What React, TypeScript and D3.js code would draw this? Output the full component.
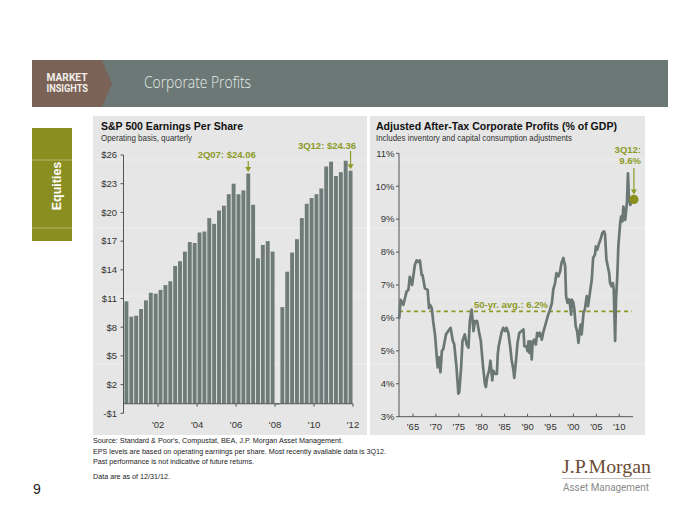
import React from 'react';
import * as d3 from 'd3';

// ---------- Data ----------
const epsQuarters = [
  '1Q01','2Q01','3Q01','4Q01','1Q02','2Q02','3Q02','4Q02','1Q03','2Q03','3Q03','4Q03',
  '1Q04','2Q04','3Q04','4Q04','1Q05','2Q05','3Q05','4Q05','1Q06','2Q06','3Q06','4Q06',
  '1Q07','2Q07','3Q07','4Q07','1Q08','2Q08','3Q08','4Q08','1Q09','2Q09','3Q09','4Q09',
  '1Q10','2Q10','3Q10','4Q10','1Q11','2Q11','3Q11','4Q11','1Q12','2Q12','3Q12'
];
const epsValues = [
  10.7, 9.1, 9.2, 9.9, 10.8, 11.6, 11.5, 11.9, 12.4, 12.8, 14.4, 14.9,
  15.9, 16.9, 16.8, 17.9, 18.0, 19.4, 18.8, 20.2, 20.7, 21.9, 23.0, 21.9,
  22.3, 24.06, 20.8, 15.2, 16.6, 17.0, 15.9, -0.09, 10.1, 13.8, 15.8, 17.2,
  19.4, 20.9, 21.5, 21.9, 22.5, 24.8, 25.3, 23.8, 24.2, 25.4, 24.36
];
const epsTicks = [-1, 2, 5, 8, 11, 14, 17, 20, 23, 26];
const epsXLabels = ["'02", "'04", "'06", "'08", "'10", "'12"];
const epsXLabelIdx = [7, 15, 23, 31, 39, 47];

const profitYears = [
  1962.0, 1962.3, 1962.7, 1962.9, 1963.6, 1964.0, 1964.3, 1964.8, 1965.4, 1965.8,
  1966.2, 1966.5, 1966.9, 1967.1, 1967.6, 1968.2, 1968.5, 1968.7, 1969.1, 1969.4,
  1969.8, 1970.2, 1970.4, 1970.7, 1971.0, 1971.3, 1971.6, 1972.2, 1972.7, 1973.2,
  1973.7, 1974.0, 1974.5, 1974.9, 1975.1, 1975.5, 1975.8, 1976.3, 1976.7, 1977.1,
  1977.4, 1977.8, 1978.2, 1978.5, 1979.0, 1979.5, 1979.8, 1980.3, 1980.7, 1980.9,
  1981.2, 1981.6, 1981.9, 1982.3, 1982.5, 1982.9, 1983.3, 1983.5, 1983.7, 1984.3,
  1984.7, 1985.1, 1985.4, 1985.8, 1986.2, 1986.5, 1986.9, 1987.1, 1987.5, 1987.8,
  1988.2, 1988.7, 1989.1, 1989.3, 1989.7, 1990.0, 1990.2, 1990.4, 1990.7, 1990.9,
  1991.1, 1991.4, 1991.8, 1992.1, 1992.5, 1992.7, 1993.1, 1993.4, 1993.8, 1994.2,
  1994.5, 1994.9, 1995.3, 1995.6, 1996.0, 1996.3, 1996.7, 1997.1, 1997.4, 1997.8,
  1998.2, 1998.4, 1998.7, 1999.0, 1999.3, 1999.5, 1999.6, 2000.0, 2000.2, 2000.5,
  2000.8, 2001.1, 2001.3, 2001.6, 2001.8, 2002.2, 2002.5, 2002.9, 2003.2, 2003.6,
  2004.0, 2004.3, 2004.7, 2004.9, 2005.2, 2005.6, 2005.9, 2006.3, 2006.7, 2006.9,
  2007.2, 2007.5, 2007.8, 2008.0, 2008.3, 2008.6, 2008.8, 2009.1, 2009.3, 2009.6,
  2009.8, 2010.2, 2010.4, 2010.7, 2010.9, 2011.3, 2011.7, 2011.9, 2012.1, 2012.4,
  2012.8
];
const profitValues = [
  6.0, 6.55, 6.45, 6.4, 6.8, 6.85, 7.25, 7.0, 7.6, 7.75,
  7.7, 7.75, 7.3, 7.3, 6.9, 6.85, 6.3, 6.4, 6.3, 5.9,
  5.5, 4.8, 4.5, 4.8, 4.35, 5.0, 5.05, 5.5, 5.6, 5.7,
  5.3, 5.2, 4.5, 3.7, 3.75, 4.5, 5.3, 5.5, 5.2, 5.1,
  5.9, 6.25, 5.6, 5.9, 5.9, 5.5, 5.3, 4.5, 4.0, 3.9,
  4.2, 4.4, 4.7, 4.1, 4.4, 4.3, 4.3, 4.9, 5.14, 5.55,
  5.7, 5.6, 5.7, 5.55, 5.14, 4.74, 4.43, 4.18, 4.74, 5.24,
  5.55, 5.6, 5.65, 5.14, 5.14, 4.99, 5.29, 4.94, 5.29, 4.74,
  5.24, 5.34, 5.19, 5.55, 5.45, 5.55, 5.34, 5.55, 5.75, 5.95,
  6.1, 6.25, 6.45, 6.86, 7.06, 7.36, 7.26, 7.41, 7.67, 7.82,
  7.57, 6.66, 6.46, 6.56, 6.36, 6.1, 6.56, 6.46, 6.26, 5.75,
  5.6, 5.24, 5.55, 5.8, 5.5, 6.15, 6.26, 6.66, 6.36, 6.76,
  7.16, 7.82, 7.92, 8.17, 8.07, 8.27, 8.37, 8.58, 8.63, 8.53,
  7.77, 7.57, 7.36, 7.06, 6.96, 7.06, 6.86, 5.3, 6.56, 7.36,
  8.17, 8.88, 9.08, 8.93, 9.38, 8.98, 9.54, 10.39, 9.69, 9.43,
  9.58
];
const profitTicks = [3, 4, 5, 6, 7, 8, 9, 10, 11];
const profitXTicks = [1965, 1970, 1975, 1980, 1985, 1990, 1995, 2000, 2005, 2010];
const profitAvg = 6.2;
const latestProfit = { year: 2013.2, value: 9.6 };

// ---------- Style ----------
const FONT = "'Liberation Sans', Arial, sans-serif";
const OLIVE = '#8d9a27';
const BAR = '#6f7b78';
const PANEL = '#e5e6e5';
const AXIS = '#555';
const TXT = '#333';

export default function App() {
  // Left chart scales
  const xL = d3.scaleBand<string>().domain(epsQuarters).range([124, 353]).paddingInner(0.2).paddingOuter(0.1);
  const yL = d3.scaleLinear().domain([-1, 26]).range([413.3, 155]);
  const stepL = (353 - 124) / epsQuarters.length;
  const tickXL = (i: number) => 124 + i * stepL;

  // Right chart scales
  const xR = d3.scaleLinear().domain([1961.95, 2013.0]).range([399, 633]);
  const yR = d3.scaleLinear().domain([3, 11]).range([416.7, 153.3]);
  const line = d3.line<number>()
    .x((_, i) => xR(profitYears[i]))
    .y((v) => yR(v))
    .curve(d3.curveLinear);

  const i07 = epsQuarters.indexOf('2Q07');
  const i12 = epsQuarters.indexOf('3Q12');
  const cx07 = (xL(epsQuarters[i07]) as number) + xL.bandwidth() / 2;
  const cx12 = (xL(epsQuarters[i12]) as number) + xL.bandwidth() / 2;

  const arrow = (x: number, y1: number, y2: number) => (
    <g>
      <line x1={x} x2={x} y1={y1} y2={y2 - 4} stroke={OLIVE} strokeWidth={1.2} />
      <path d={`M${x - 3},${y2 - 5} L${x + 3},${y2 - 5} L${x},${y2} Z`} fill={OLIVE} />
    </g>
  );

  const artifactYs = [160, 228, 296, 364];

  return (
    <svg width={700} height={525} style={{ position: 'absolute', left: 0, top: 0 }} fontFamily={FONT}>
      <rect width={700} height={525} fill="#fff" />

      {/* Header */}
      <rect x={32} y={60} width={636} height={47} fill="#6b7875" />
      <path d="M32,60 L102,60 L112,83.5 L102,107 L32,107 Z" fill="#7a6356" />
      <text x={46.5} y={81} fontSize={10} fontWeight="bold" fill="#f2eeea" fontFamily="Roboto, sans-serif" textLength={41} lengthAdjust="spacingAndGlyphs">MARKET</text>
      <text x={46.5} y={91.5} fontSize={10} fontWeight="bold" fill="#f2eeea" fontFamily="Roboto, sans-serif" textLength={41.5} lengthAdjust="spacingAndGlyphs">INSIGHTS</text>
      <text x={144} y={88} fontSize={16} fontWeight={300} fill="#e6ebe9" fontFamily="'Open Sans', sans-serif" textLength={107} lengthAdjust="spacingAndGlyphs">Corporate Profits</text>

      {/* Equities tab */}
      <rect x={32} y={128} width={40} height={113} fill="#8a8e20" />
      <text transform="translate(56,186) rotate(-90)" textAnchor="middle" dy="0.36em" fontSize={12.5} fontWeight="bold" fill="#fff">Equities</text>

      {/* Panels */}
      <rect x={93} y={116} width={274} height={319} fill={PANEL} />
      <rect x={370} y={116} width={275} height={319} fill={PANEL} />
      {artifactYs.map((y) => (
        <line key={y} x1={32} x2={668} y1={y} y2={y} stroke="#fff" strokeOpacity={0.35} strokeWidth={1} />
      ))}

      {/* Left chart titles */}
      <text x={101} y={130} fontSize={10.5} fontWeight="bold" fill="#111" textLength={142} lengthAdjust="spacingAndGlyphs">S&amp;P 500 Earnings Per Share</text>
      <text x={101} y={141} fontSize={9} fill={TXT} textLength={91} lengthAdjust="spacingAndGlyphs">Operating basis, quarterly</text>

      {/* Left bars */}
      {epsValues.map((v, i) => {
        const x = xL(epsQuarters[i]) as number;
        const y0 = yL(0);
        const y1 = yL(v);
        return (
          <rect key={i} x={x} y={Math.min(y0, y1)} width={xL.bandwidth()} height={Math.max(0.8, Math.abs(y1 - y0))} fill={BAR} />
        );
      })}

      {/* Left axes */}
      <line x1={123.5} x2={123.5} y1={yL(26)} y2={yL(-1)} stroke={AXIS} strokeWidth={1} />
      {epsTicks.map((t) => (
        <g key={t}>
          <line x1={120.5} x2={123.5} y1={yL(t)} y2={yL(t)} stroke={AXIS} />
          <text x={117} y={yL(t)} dy="0.35em" textAnchor="end" fontSize={9.5} fill={TXT}>
            {t < 0 ? `-$${Math.abs(t)}` : `$${t}`}
          </text>
        </g>
      ))}
      <line x1={123.5} x2={353} y1={yL(0)} y2={yL(0)} stroke={AXIS} strokeWidth={1} />
      {epsXLabelIdx.map((idx, k) => (
        <g key={idx}>
          <line x1={tickXL(idx)} x2={tickXL(idx)} y1={yL(0)} y2={yL(0) + 3} stroke={AXIS} />
          <text x={tickXL(idx)} y={427.5} textAnchor="middle" fontSize={9.5} fill={TXT}>{epsXLabels[k]}</text>
        </g>
      ))}

      {/* Left annotations */}
      <text x={cx07 + 7.5} y={158} textAnchor="end" fontSize={9.5} fontWeight="bold" fill={OLIVE}>
        {`${epsQuarters[i07]}: $${epsValues[i07].toFixed(2)}`}
      </text>
      {arrow(cx07, 161, yL(epsValues[i07]) - 1.5)}
      <text x={356} y={149} textAnchor="end" fontSize={9.5} fontWeight="bold" fill={OLIVE}>
        {`${epsQuarters[i12]}: $${epsValues[i12].toFixed(2)}`}
      </text>
      {arrow(cx12, 151, yL(epsValues[i12]) - 1.5)}

      {/* Right chart titles */}
      <text x={376} y={130} fontSize={10.5} fontWeight="bold" fill="#111" textLength={241} lengthAdjust="spacingAndGlyphs">Adjusted After-Tax Corporate Profits (% of GDP)</text>
      <text x={376} y={141} fontSize={9} fill={TXT} textLength={196} lengthAdjust="spacingAndGlyphs">Includes inventory and capital consumption adjustments</text>

      {/* Right axes */}
      <line x1={399} x2={399} y1={yR(11)} y2={yR(3)} stroke={AXIS} />
      {profitTicks.map((t) => (
        <g key={t}>
          <line x1={396} x2={399} y1={yR(t)} y2={yR(t)} stroke={AXIS} />
          <text x={394.5} y={yR(t)} dy="0.35em" textAnchor="end" fontSize={9.5} fill={TXT}>{`${t}%`}</text>
        </g>
      ))}
      <line x1={399} x2={633} y1={yR(3)} y2={yR(3)} stroke={AXIS} />
      {profitXTicks.map((yr) => (
        <g key={yr}>
          <line x1={xR(yr)} x2={xR(yr)} y1={yR(3)} y2={yR(3) - 3} stroke={AXIS} />
          <text x={xR(yr)} y={430} textAnchor="middle" fontSize={9.5} fill={TXT}>{`'${String(yr).slice(2)}`}</text>
        </g>
      ))}

      {/* Average line */}
      <line x1={399} x2={632} y1={yR(profitAvg)} y2={yR(profitAvg)} stroke={OLIVE} strokeWidth={1.8} strokeDasharray="4,3.5" />
      <text x={511} y={308} textAnchor="middle" fontSize={9.5} fontWeight="bold" fill={OLIVE}>{`50-yr. avg.: ${profitAvg}%`}</text>

      {/* Profit line */}
      <path d={line(profitValues) || ''} fill="none" stroke="#6b7774" strokeWidth={2.7} strokeLinejoin="round" strokeLinecap="round" />

      {/* Latest point annotation */}
      <text x={641} y={153} textAnchor="end" fontSize={9.5} fontWeight="bold" fill={OLIVE}>3Q12:</text>
      <text x={641} y={164} textAnchor="end" fontSize={9.5} fontWeight="bold" fill={OLIVE}>{`${latestProfit.value}%`}</text>
      {arrow(xR(latestProfit.year), 168, yR(latestProfit.value) - 5)}
      <circle cx={xR(latestProfit.year)} cy={yR(latestProfit.value)} r={4.6} fill="#8a8f1e" />

      {/* Footer */}
      <text x={93} y={443} fontSize={7.5} fill="#222" textLength={250} lengthAdjust="spacingAndGlyphs">Source: Standard &amp; Poor's, Compustat, BEA, J.P. Morgan Asset Management.</text>
      <text x={93} y={454} fontSize={7.5} fill="#222" textLength={293} lengthAdjust="spacingAndGlyphs">EPS levels are based on operating earnings per share. Most recently available data is 3Q12.</text>
      <text x={93} y={464} fontSize={7.5} fill="#222" textLength={161} lengthAdjust="spacingAndGlyphs">Past performance is not indicative of future returns.</text>
      <text x={93} y={479} fontSize={7.5} fill="#222" textLength={77} lengthAdjust="spacingAndGlyphs">Data are as of 12/31/12.</text>
      <text x={33} y={494} fontSize={14} fill="#222">9</text>

      {/* Logo */}
      <text x={562} y={473} fontSize={19.5} fill="#6b4c36" fontFamily="'Liberation Serif', 'DejaVu Serif', serif" textLength={89} lengthAdjust="spacingAndGlyphs">J.P.Morgan</text>
      <line x1={562} x2={651} y1={478.5} y2={478.5} stroke="#b8b2ae" strokeWidth={0.8} />
      <text x={563} y={491} fontSize={11} fill="#8a8a8a" fontFamily="Roboto, sans-serif" textLength={86} lengthAdjust="spacingAndGlyphs">Asset Management</text>
    </svg>
  );
}
